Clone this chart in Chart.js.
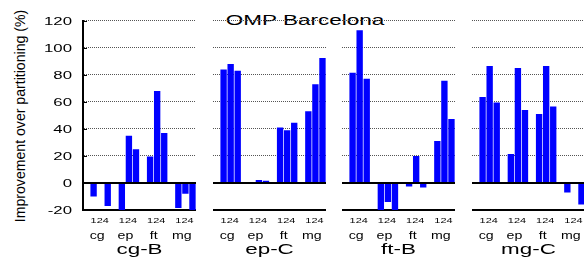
<!DOCTYPE html>
<html>
<head>
<meta charset="utf-8">
<script src="https://cdn.jsdelivr.net/npm/chart.js@4.4.1/dist/chart.umd.min.js"></script>
<style>
  html, body { margin: 0; padding: 0; background: #fff; }
  body { width: 584px; height: 259px; overflow: hidden; position: relative;
         font-family: 'Liberation Sans', Arial, sans-serif; }
  .panel { position: absolute; top: 0; height: 259px; }
  .txt { position: absolute; white-space: nowrap; color: #000; line-height: 1; }
</style>
</head>
<body>
<div class="txt" id="mainTitle" style="left:305px; top:12.3px; font-size:15px; transform: translate(-50%, 0) scaleX(1.5);">OMP Barcelona</div>
<div class="txt" id="yTitle" style="left:18.5px; top:116px; font-size:15px; transform: translate(-50%, -50%) rotate(-90deg) scaleX(0.94);">Improvement over partitioning (%)</div>

<script>
// panels, groups and bars (1, 2, 4 threads per group)
const panelNames = ['cg-B', 'ep-C', 'ft-B', 'mg-C'];
const groups = ['cg', 'ep', 'ft', 'mg'];
const threadLabel = '124';
const yTicks = [-20, 0, 20, 40, 60, 80, 100, 120];

// improvement over partitioning (%), 3 values per group: cg, ep, ft, mg
const cgB = [-10, 0, -17,     -20, 35, 25,     19.5, 68, 37,     -18.5, -8, -20];
const epC = [84, 88, 83,      0.7, 2.2, 1.7,   41, 39, 44.5,     53, 73, 92.5];
const ftB = [81.5, 113, 77,   -20, -14, -20,   -2.7, 20, -3.4,   31, 75.5, 47.3];
const mgC = [63.5, 86.5, 59.5, 21.5, 85, 54,   51, 86.5, 56.5,   -7, 0.7, -16];
const panelData = [cgB, epC, ftB, mgC];

// layout
const panelLeft = [83, 212.5, 342, 472];
const panelWidth = 113;
const plotTop = 20.7;
const plotBottom = 210;
const FONT = '"Liberation Sans", Arial, sans-serif';

// one empty slot before every group of three bars
function toSlots(vals) {
  const out = [];
  groups.forEach((g, i) => {
    out.push(null);
    out.push(...vals.slice(i * 3, i * 3 + 3));
  });
  return out;
}
function slotLabels() {
  const out = [];
  groups.forEach(g => {
    out.push('');
    threadLabel.split('').forEach(t => out.push(g + ' ' + t));
  });
  return out;
}

function stretchText(ctx, str, x, y, size, sx, align) {
  ctx.save();
  ctx.translate(x, y);
  ctx.scale(sx, 1);
  ctx.font = size + 'px ' + FONT;
  ctx.textAlign = align;
  ctx.textBaseline = 'alphabetic';
  ctx.fillStyle = '#000';
  ctx.fillText(str, 0, 0);
  ctx.restore();
}

const panelText = {
  id: 'panelText',
  afterDraw(chart, args, opts) {
    const ctx = chart.ctx;
    const xs = chart.scales.x, ys = chart.scales.y;
    const area = chart.chartArea;
    groups.forEach((g, i) => {
      const mid = xs.getPixelForValue(i * 4 + 2);
      stretchText(ctx, threadLabel, mid - 1, area.bottom + 12.5, 7.5, 1.45, 'center');
      stretchText(ctx, g, mid - 3.5, area.bottom + 28.5, 10.5, 1.35, 'center');
    });
    stretchText(ctx, opts.name, (area.left + area.right) / 2, area.bottom + 43.5, 14, 1.6, 'center');
    if (opts.first) {
      ctx.save();
      ctx.strokeStyle = '#000';
      ctx.lineWidth = 1;
      yTicks.forEach(v => {
        const y = ys.getPixelForValue(v);
        stretchText(ctx, String(v), area.left - 11, y + 4, 11.2, 1.5, 'right');
        ctx.beginPath();
        ctx.moveTo(area.left, Math.round(y) + 0.5);
        ctx.lineTo(area.left + 4, Math.round(y) + 0.5);
        ctx.stroke();
      });
      ctx.restore();
    }
  }
};

panelNames.forEach((name, p) => {
  const first = p === 0;
  const padLeft = first ? panelLeft[0] : 0;
  const box = document.createElement('div');
  box.className = 'panel';
  box.style.left = (panelLeft[p] - padLeft) + 'px';
  box.style.width = (panelWidth + padLeft) + 'px';
  const canvas = document.createElement('canvas');
  box.appendChild(canvas);
  document.body.appendChild(box);

  new Chart(canvas, {
    type: 'bar',
    data: {
      labels: slotLabels(),
      datasets: [{
        data: toSlots(panelData[p]),
        backgroundColor: '#0000ff',
        borderWidth: 0,
        barPercentage: 0.9,
        categoryPercentage: 1
      }]
    },
    options: {
      responsive: true,
      maintainAspectRatio: false,
      animation: false,
      layout: { padding: { left: padLeft, right: 0, top: plotTop, bottom: 259 - plotBottom } },
      plugins: {
        legend: { display: false },
        tooltip: { enabled: false },
        panelText: { name: name, first: first }
      },
      scales: {
        x: { display: false },
        y: {
          min: -20,
          max: 120,
          ticks: { display: false, stepSize: 20 },
          grid: {
            drawTicks: false,
            color: c => (c.tick && c.tick.value > 0) ? '#555' : '#000',
            lineWidth: c => (c.tick && c.tick.value > 0) ? 1 : 2
          },
          border: {
            display: first,
            color: '#000',
            width: 2,
            dash: c => (c.tick && c.tick.value > 0) ? [1, 1] : []
          }
        }
      }
    },
    plugins: [panelText]
  });
});
</script>
</body>
</html>
